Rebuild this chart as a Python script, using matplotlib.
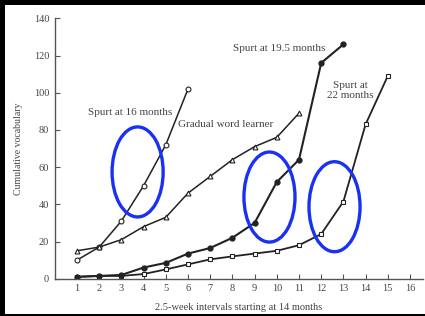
import matplotlib.pyplot as plt
from matplotlib.patches import Ellipse, Rectangle

# Data
intervals = list(range(1, 17))
tick_labels = [str(i) for i in intervals]

x_spurt16 = [1, 2, 3, 4, 5, 6]
y_spurt16 = [10, 17, 31, 50, 72, 102]

x_gradual = [1, 2, 3, 4, 5, 6, 7, 8, 9, 10, 11]
y_gradual = [15, 17, 21, 28, 33, 46, 55, 64, 71, 76, 89]

x_spurt195 = [1, 2, 3, 4, 5, 6, 7, 8, 9, 10, 11, 12, 13]
y_spurt195 = [1, 1.5, 2, 6, 8.5, 13.5, 16.5, 22, 30, 52, 64, 116, 126]

x_spurt22 = [1, 2, 3, 4, 5, 6, 7, 8, 9, 10, 11, 12, 13, 14, 15]
y_spurt22 = [1, 1.5, 1.5, 2.5, 5, 7.7, 10.4, 12, 13.5, 15, 18, 24, 41.5, 83, 109]

# Blue circled regions (centre x, centre y) in data units
circle_centres = [(3.73, 57.4), (9.67, 43.9), (12.6, 38.7)]

ink = "#222222"
txt = "#444444"
serif = "Liberation Serif"

fig = plt.figure(figsize=(4.25, 3.16), dpi=100, facecolor="black")
# white page inside the black scan border
fig.patches.append(Rectangle((5 / 425, 2 / 316), 420 / 425, 309 / 316,
                             transform=fig.transFigure, facecolor="white",
                             edgecolor="none", zorder=-10))
ax = fig.add_axes([54.8 / 425, 37.3 / 316, (423 - 54.8) / 425, (278.7 - 18.3) / 316])
ax.set_facecolor("none")
ax.set_zorder(5)

ax.plot(x_spurt16, y_spurt16, color=ink, lw=1.1, marker="o", ms=3.5,
        mfc="white", mec=ink, mew=0.8)
ax.plot(x_gradual, y_gradual, color=ink, lw=1.1, marker="^", ms=3.5,
        mfc="white", mec=ink, mew=0.8)
ax.plot(x_spurt22, y_spurt22, color=ink, lw=1.3, marker="s", ms=3.2,
        mfc="white", mec=ink, mew=0.8)
ax.plot(x_spurt195, y_spurt195, color=ink, lw=1.5, marker="o", ms=3.5,
        mfc=ink, mec=ink)

for cx, cy in circle_centres:
    ax.add_patch(Ellipse((cx, cy), 2.3, 48.4, fill=False, edgecolor="#1a30f5",
                         lw=2.4, zorder=5))

ax.text(3.4, 89.6, "Spurt at 16 months", fontsize=8, family=serif, color=txt,
        ha="center", va="center")
ax.text(7.7, 83, "Gradual word learner", fontsize=8, family=serif, color=txt,
        ha="center", va="center")
ax.text(10.1, 123.6, "Spurt at 19.5 months", fontsize=8, family=serif, color=txt,
        ha="center", va="center")
ax.text(13.3, 101, "Spurt at\n22 months", fontsize=8, family=serif, color=txt,
        ha="center", va="center", linespacing=1.1)

ax.set_xlim(0, (423 - 54.8) / 22.2)
ax.set_ylim(0, 140)
ax.set_xticks(intervals)
ax.set_xticklabels(tick_labels)
ax.set_yticks(range(0, 141, 20))
ax.spines["top"].set_visible(False)
ax.spines["right"].set_visible(False)
for s in ("left", "bottom"):
    ax.spines[s].set_color("#555555")
    ax.spines[s].set_linewidth(1.0)
ax.tick_params(direction="in", length=3.5, width=0.8, color="#555555",
               labelsize=7.5, labelcolor=txt, pad=4)
for lab in ax.get_xticklabels() + ax.get_yticklabels():
    lab.set_family(serif)

ax.set_ylabel("Cumulative vocabulary", fontsize=7, family=serif, color=txt, labelpad=8)
ax.set_xlabel("2.5-week intervals starting at 14 months", fontsize=7.5,
              family=serif, color=txt, labelpad=7)

fig.savefig("out.png", dpi=100, facecolor="black")
